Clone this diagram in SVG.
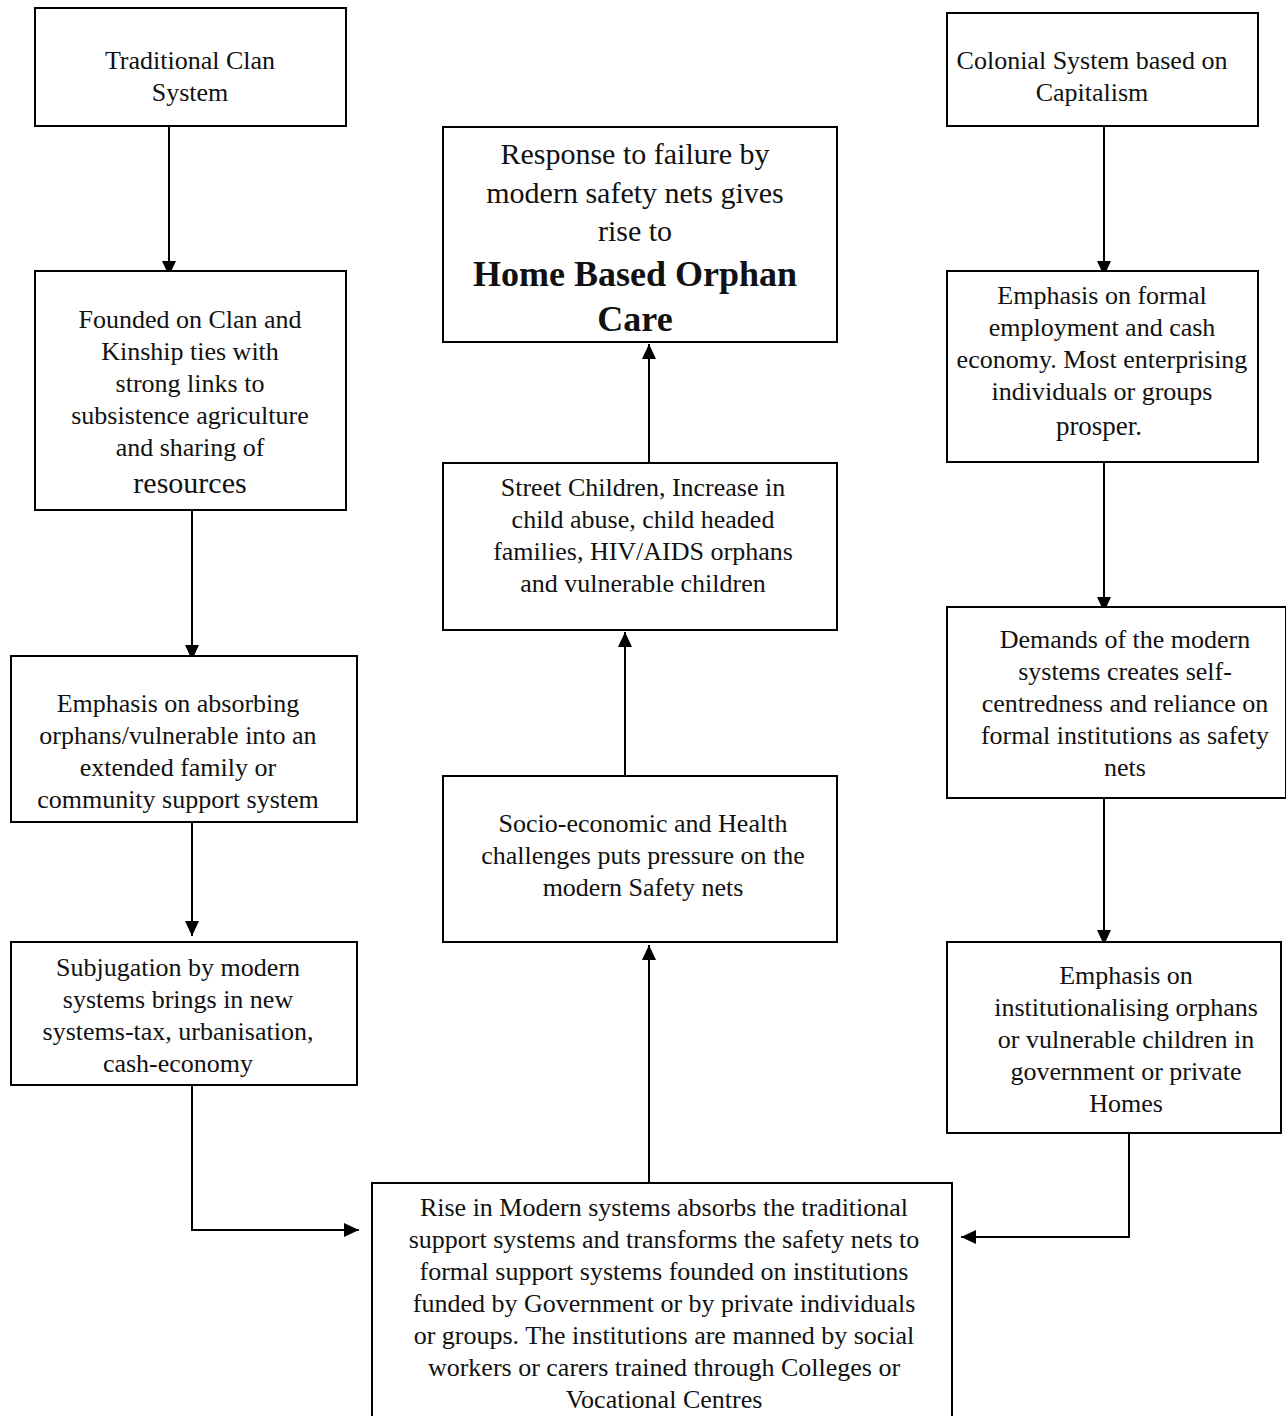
<svg xmlns="http://www.w3.org/2000/svg" width="1286" height="1416" viewBox="0 0 1286 1416">
<style>
.box{fill:#fff;stroke:#000;stroke-width:2}
.t{font-family:"Liberation Serif","DejaVu Serif",serif;font-size:26px;fill:#111;text-anchor:middle}
.big{font-size:30px}
.pr{font-size:27px}
.bold{font-size:36px;font-weight:bold}
.c{fill:none;stroke:#000;stroke-width:2}
</style>
<defs>
<marker id="ah" markerUnits="userSpaceOnUse" markerWidth="16" markerHeight="16" viewBox="0 0 16 16" refX="15" refY="8" orient="auto">
<path d="M0,1 L15,8 L0,15 Z" fill="#000"/>
</marker>
</defs>
<rect width="1286" height="1416" fill="#fff"/>
<g id="connectors">
<line class="c" x1="169" y1="126" x2="169" y2="276" marker-end="url(#ah)"/>
<line class="c" x1="192" y1="510" x2="192" y2="660" marker-end="url(#ah)"/>
<line class="c" x1="192" y1="822" x2="192" y2="936" marker-end="url(#ah)"/>
<polyline class="c" points="192,1085 192,1230 359,1230" marker-end="url(#ah)"/>
<line class="c" x1="649" y1="1183" x2="649" y2="945" marker-end="url(#ah)"/>
<line class="c" x1="625" y1="776" x2="625" y2="632" marker-end="url(#ah)"/>
<line class="c" x1="649" y1="463" x2="649" y2="344" marker-end="url(#ah)"/>
<line class="c" x1="1104" y1="126" x2="1104" y2="276" marker-end="url(#ah)"/>
<line class="c" x1="1104" y1="462" x2="1104" y2="612" marker-end="url(#ah)"/>
<line class="c" x1="1104" y1="798" x2="1104" y2="945" marker-end="url(#ah)"/>
<polyline class="c" points="1129,1133 1129,1237 961,1237" marker-end="url(#ah)"/>
</g>
<g id="traditional">
<rect class="box" x="35" y="8" width="311" height="118"/>
<text class="t" x="190" y="69">Traditional Clan</text>
<text class="t" x="190" y="101">System</text>
</g>
<g id="founded">
<rect class="box" x="35" y="271" width="311" height="239"/>
<text class="t" x="190" y="328">Founded on Clan and</text>
<text class="t" x="190" y="360">Kinship ties with</text>
<text class="t" x="190" y="392">strong links to</text>
<text class="t" x="190" y="424">subsistence agriculture</text>
<text class="t" x="190" y="456">and sharing of</text>
<text class="t big" x="190" y="493">resources</text>
</g>
<g id="absorbing">
<rect class="box" x="11" y="656" width="346" height="166"/>
<text class="t" x="178" y="712">Emphasis on absorbing</text>
<text class="t" x="178" y="744">orphans/vulnerable into an</text>
<text class="t" x="178" y="776">extended family or</text>
<text class="t" x="178" y="808">community support system</text>
</g>
<g id="subjugation">
<rect class="box" x="11" y="942" width="346" height="143"/>
<text class="t" x="178" y="976">Subjugation by modern</text>
<text class="t" x="178" y="1008">systems brings in new</text>
<text class="t" x="178" y="1040">systems-tax, urbanisation,</text>
<text class="t" x="178" y="1072">cash-economy</text>
</g>
<g id="response">
<rect class="box" x="443" y="127" width="394" height="215"/>
<text class="t big" x="635" y="164">Response to failure by</text>
<text class="t big" x="635" y="203">modern safety nets gives</text>
<text class="t big" x="635" y="241">rise to</text>
<text class="t bold" x="635" y="286">Home Based Orphan</text>
<text class="t bold" x="635" y="331">Care</text>
</g>
<g id="street">
<rect class="box" x="443" y="463" width="394" height="167"/>
<text class="t" x="643" y="496">Street Children, Increase in</text>
<text class="t" x="643" y="528">child abuse, child headed</text>
<text class="t" x="643" y="560">families, HIV/AIDS orphans</text>
<text class="t" x="643" y="592">and vulnerable children</text>
</g>
<g id="socio">
<rect class="box" x="443" y="776" width="394" height="166"/>
<text class="t" x="643" y="832">Socio-economic and Health</text>
<text class="t" x="643" y="864">challenges puts pressure on the</text>
<text class="t" x="643" y="896">modern Safety nets</text>
</g>
<g id="rise">
<rect class="box" x="372" y="1183" width="580" height="240"/>
<text class="t" x="664" y="1216">Rise in Modern systems absorbs the traditional</text>
<text class="t" x="664" y="1248">support systems and transforms the safety nets to</text>
<text class="t" x="664" y="1280">formal support systems founded on institutions</text>
<text class="t" x="664" y="1312">funded by Government or by private individuals</text>
<text class="t" x="664" y="1344">or groups. The institutions are manned by social</text>
<text class="t" x="664" y="1376">workers or carers trained through Colleges or</text>
<text class="t" x="664" y="1408">Vocational Centres</text>
</g>
<g id="colonial">
<rect class="box" x="947" y="13" width="311" height="113"/>
<text class="t" x="1092" y="69">Colonial System based on</text>
<text class="t" x="1092" y="101">Capitalism</text>
</g>
<g id="formal">
<rect class="box" x="947" y="271" width="311" height="191"/>
<text class="t" x="1102" y="304">Emphasis on formal</text>
<text class="t" x="1102" y="336">employment and cash</text>
<text class="t" x="1102" y="368">economy. Most enterprising</text>
<text class="t" x="1102" y="400">individuals or groups</text>
<text class="t pr" x="1099" y="435">prosper.</text>
</g>
<g id="demands">
<rect class="box" x="947" y="607" width="339" height="191"/>
<text class="t" x="1125" y="648">Demands of the modern</text>
<text class="t" x="1125" y="680">systems creates self-</text>
<text class="t" x="1125" y="712">centredness and reliance on</text>
<text class="t" x="1125" y="744">formal institutions as safety</text>
<text class="t" x="1125" y="776">nets</text>
</g>
<g id="institutionalising">
<rect class="box" x="947" y="942" width="334" height="191"/>
<text class="t" x="1126" y="984">Emphasis on</text>
<text class="t" x="1126" y="1016">institutionalising orphans</text>
<text class="t" x="1126" y="1048">or vulnerable children in</text>
<text class="t" x="1126" y="1080">government or private</text>
<text class="t" x="1126" y="1112">Homes</text>
</g>
</svg>
